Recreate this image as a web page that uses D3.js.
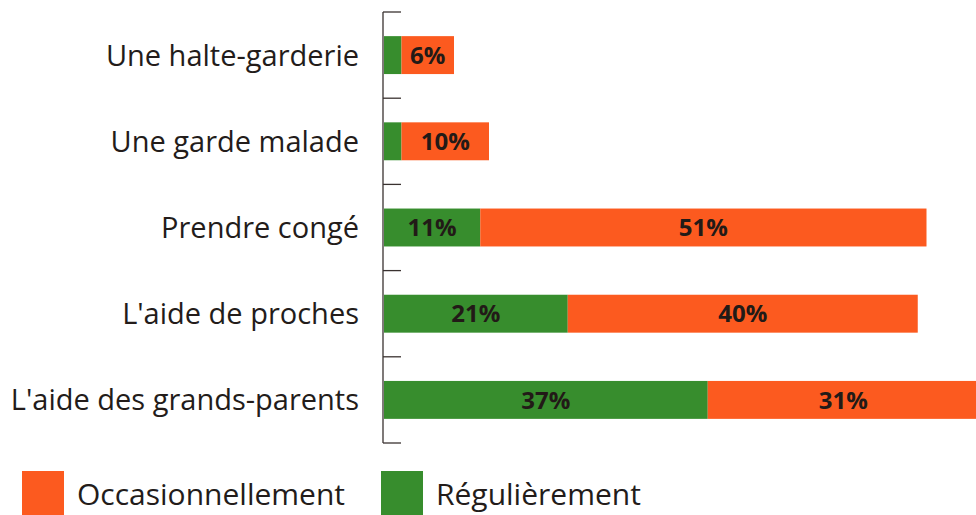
<!DOCTYPE html>
<html><head><meta charset="utf-8">
<script src="https://cdn.jsdelivr.net/npm/d3@7"></script>
<style>body{margin:0;background:#fff;}svg{display:block;}</style>
</head><body>
<svg id="c" width="976" height="515"></svg>
<script>
const categories = ["Une halte-garderie","Une garde malade","Prendre congé","L'aide de proches","L'aide des grands-parents"];
const regulierement = [2, 2, 11, 21, 37];
const occasionnellement = [6, 10, 51, 40, 31];
const showRegLabel = [false, false, true, true, true];
const seriesNames = ["Occasionnellement", "Régulièrement"];
const colors = {occ: "#fc5a1f", reg: "#378d2d"};

const svg = d3.select("#c");
const font = "'Open Sans', 'Noto Sans', sans-serif";
const y = d3.scaleBand().domain(categories).range([12, 443]).paddingInner(0.56).paddingOuter(0.28);
const x = d3.scaleLinear().domain([0, 68]).range([384, 979]);

// axis
const step = y.step();
const gAxis = svg.append("g").attr("stroke", "#3a3230").attr("stroke-width", 1.3);
gAxis.append("line").attr("x1", 383).attr("x2", 383).attr("y1", y.range()[0]).attr("y2", y.range()[1]);
const bounds = categories.map(c => y(c) - (step - y.bandwidth()) / 2).concat([y.range()[1]]);
gAxis.selectAll("line.t").data(bounds).join("line").attr("class","t")
  .attr("x1", 383).attr("x2", 401).attr("y1", d => d).attr("y2", d => d);

const rows = categories.map((c, i) => ({c, reg: regulierement[i], occ: occasionnellement[i], show: showRegLabel[i]}));

const g = svg.append("g");
g.selectAll("rect.reg").data(rows).join("rect").attr("class","reg")
  .attr("x", x(0)).attr("y", d => y(d.c)).attr("width", d => x(d.reg) - x(0)).attr("height", y.bandwidth())
  .attr("fill", colors.reg);
g.selectAll("rect.occ").data(rows).join("rect").attr("class","occ")
  .attr("x", d => x(d.reg)).attr("y", d => y(d.c)).attr("width", d => x(d.reg + d.occ) - x(d.reg)).attr("height", y.bandwidth())
  .attr("fill", colors.occ);

// value labels
const vl = svg.append("g").attr("font-family", font).attr("font-weight", "bold").attr("font-size", 24)
  .attr("fill", "#221a17").attr("text-anchor", "middle");
vl.selectAll("text.r").data(rows.filter(d => d.show)).join("text").attr("class","r")
  .attr("x", d => (x(0) + x(d.reg)) / 2).attr("y", d => y(d.c) + y.bandwidth() / 2).attr("dy", "0.36em")
  .text(d => d.reg + "%");
vl.selectAll("text.o").data(rows).join("text").attr("class","o")
  .attr("x", d => (x(d.reg) + x(d.reg + d.occ)) / 2).attr("y", d => y(d.c) + y.bandwidth() / 2).attr("dy", "0.36em")
  .text(d => d.occ + "%");

// category labels
svg.append("g").attr("font-family", font).attr("font-size", 29).attr("fill", "#231c1a").attr("text-anchor", "end")
  .selectAll("text").data(categories).join("text")
  .attr("x", 359).attr("y", d => y(d) + y.bandwidth() / 2).attr("dy", "0.36em").text(d => d);

// legend
const legend = [{name: seriesNames[0], color: colors.occ, x: 22}, {name: seriesNames[1], color: colors.reg, x: 381}];
const lg = svg.append("g");
lg.selectAll("rect").data(legend).join("rect")
  .attr("x", d => d.x).attr("y", 471).attr("width", 42).attr("height", 46).attr("fill", d => d.color);
lg.selectAll("text").data(legend).join("text")
  .attr("x", d => d.x + 55).attr("y", 505).attr("font-family", font).attr("font-size", 30).attr("fill", "#231c1a")
  .text(d => d.name);
</script>
</body></html>
